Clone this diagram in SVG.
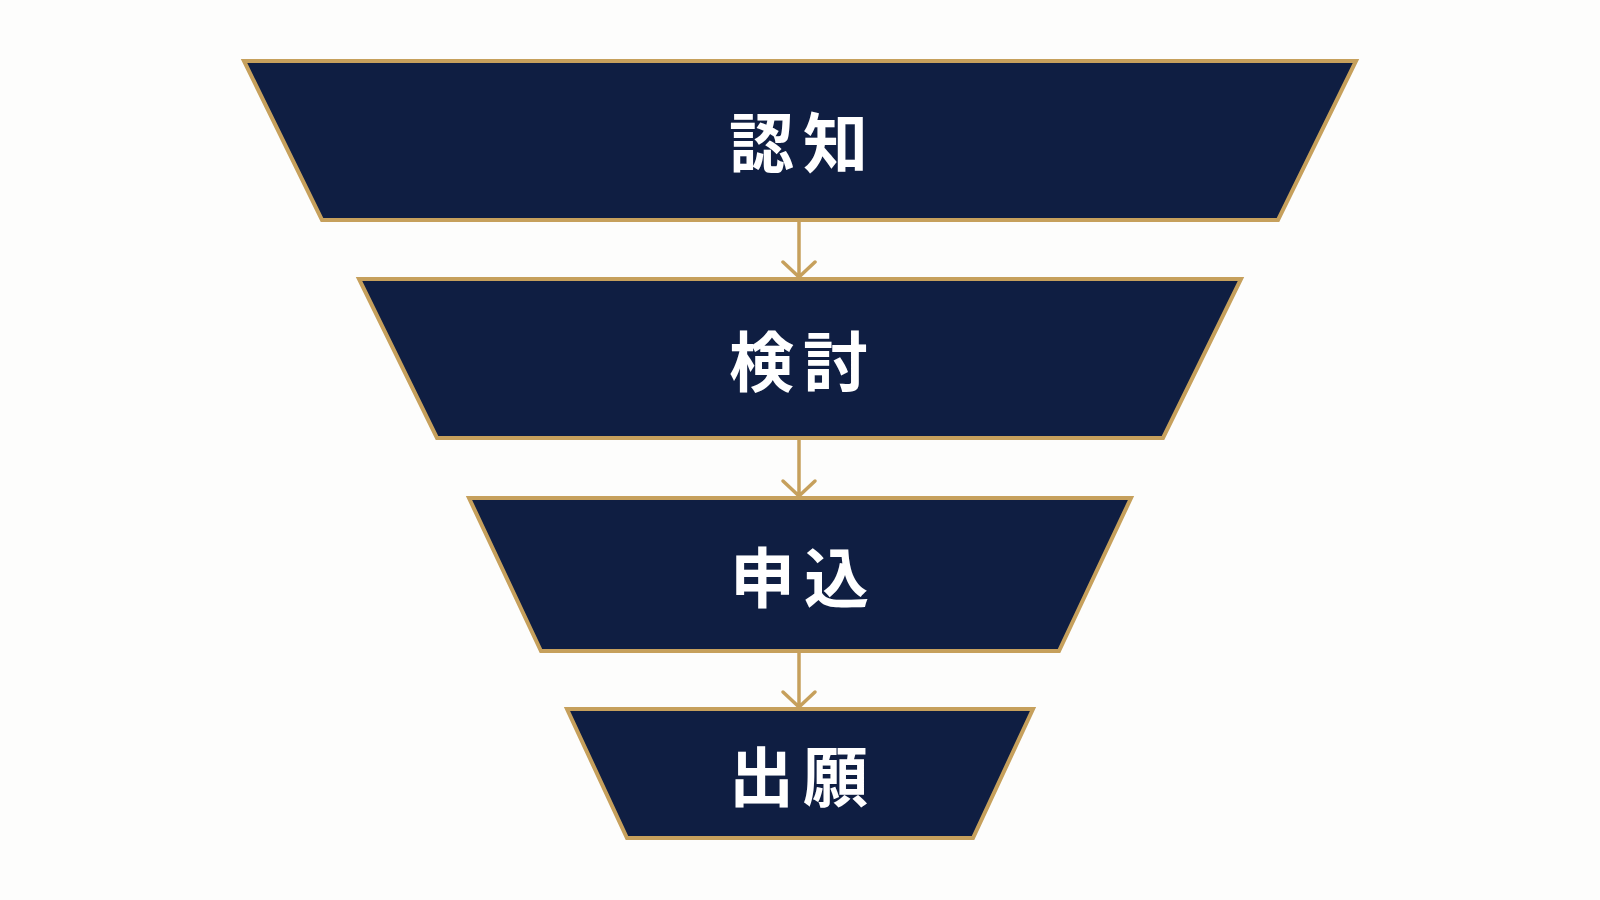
<svg xmlns="http://www.w3.org/2000/svg" width="1600" height="900" viewBox="0 0 1600 900">
  <defs>
    <style>
      .stage { fill: #0F1E42; stroke: #C6A05C; stroke-width: 4; stroke-linejoin: miter; }
      .label { fill: #FFFFFF; font-family: "Noto Sans CJK JP", "Noto Sans", sans-serif; font-weight: 700; font-size: 65px; letter-spacing: 9px; text-anchor: middle; dominant-baseline: central; }
      .conn { fill: none; stroke: #C6A05C; stroke-width: 3.5; stroke-linecap: round; stroke-linejoin: round; }
    </style>
  </defs>
  <rect x="0" y="0" width="1600" height="900" fill="#FDFDFC"/>
  <g id="connectors">
    <path class="conn" d="M799 221 V277 M783 262 L799 277 L815 262"/>
    <path class="conn" d="M799 439 V496 M783 481 L799 496 L815 481"/>
    <path class="conn" d="M799 652 V707 M783 692 L799 707 L815 692"/>
  </g>
  <g id="node-ninchi">
    <polygon class="stage" points="244,61 1356,61 1278,220 322,220"/>
    <text class="label" x="803" y="139">認知</text>
  </g>
  <g id="node-kento">
    <polygon class="stage" points="359,279 1241,279 1163,438 437,438"/>
    <text class="label" x="803" y="358">検討</text>
  </g>
  <g id="node-moushikomi">
    <polygon class="stage" points="469,498 1131,498 1059,651 541,651"/>
    <text class="label" x="804" y="574">申込</text>
  </g>
  <g id="node-shutsugan">
    <polygon class="stage" points="567,709 1033,709 973,838 627,838"/>
    <text class="label" x="803" y="773">出願</text>
  </g>
</svg>
